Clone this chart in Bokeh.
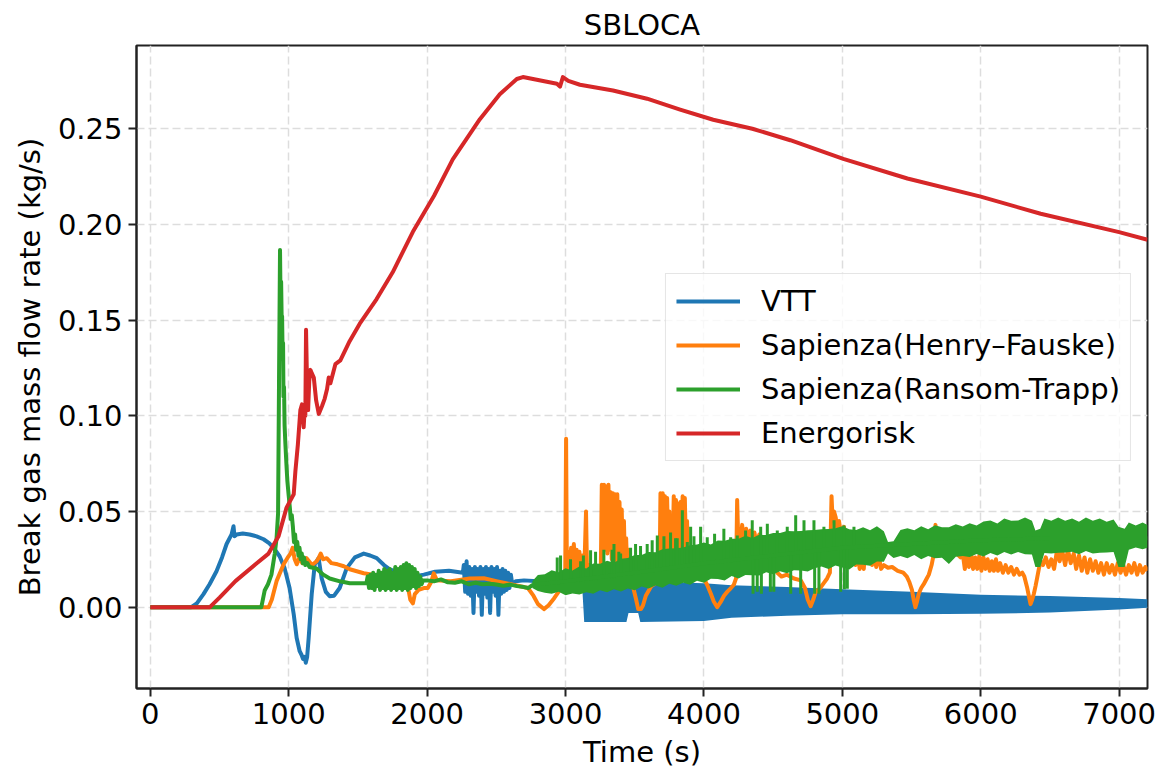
from bokeh.plotting import figure
from bokeh.models import Range1d, FixedTicker, PrintfTickFormatter
from bokeh.embed import file_html
from bokeh.resources import INLINE

# ---------------- data ----------------
x_ticks = [0, 1000, 2000, 3000, 4000, 5000, 6000, 7000]
y_ticks = [0.0, 0.05, 0.10, 0.15, 0.20, 0.25]

# VTT
vtt_t_a = [0, 296, 336, 384, 428, 478, 518, 551, 587, 601,
           608, 623, 668, 717, 768, 818, 858, 891, 934, 970,
           1006, 1036, 1057, 1079, 1093, 1103, 1115, 1123, 1133, 1144,
           1166, 1188, 1216, 1238, 1268, 1296, 1328, 1368, 1419, 1478,
           1542, 1588, 1636, 1688, 1730, 1831, 1908, 1976, 2058, 2158,
           2258]
vtt_y_a = [0, 0, 0.002, 0.0068, 0.012, 0.0188, 0.026, 0.033, 0.038, 0.0423,
           0.037, 0.038, 0.0385, 0.038, 0.037, 0.0355, 0.0335, 0.031, 0.0266, 0.0204,
           0.010, -0.0037, -0.016, -0.023, -0.025, -0.027, -0.026, -0.029, -0.026, -0.016,
           0.0068, 0.0224, 0.0256, 0.015, 0.008, 0.0057, 0.006, 0.010, 0.0204, 0.026,
           0.028, 0.027, 0.0256, 0.022, 0.0198, 0.0172, 0.016, 0.017, 0.0185, 0.019,
           0.018]
vtt_t_b = [2265, 2275, 2285, 2295, 2305, 2315, 2325, 2335, 2345, 2355,
           2365, 2375, 2385, 2395, 2405, 2415, 2425, 2435, 2445, 2455,
           2465, 2475, 2485, 2495, 2505, 2515, 2525, 2535, 2545, 2555,
           2565, 2575, 2585, 2595, 2605, 2615]
vtt_y_b = [0.022, 0.008, 0.024, 0.007, 0.021, 0.006, 0.020, -0.003, 0.021, 0.008,
           0.020, 0.006, 0.021, -0.004, 0.020, 0.007, 0.021, 0.005, 0.020, -0.003,
           0.021, 0.008, 0.020, 0.006, 0.021, -0.004, 0.019, 0.007, 0.020, 0.008,
           0.019, 0.009, 0.018, 0.010, 0.017, 0.012]
vtt_t_c = [2640, 2700, 2800, 2900, 3000, 3100, 3125]
vtt_y_c = [0.0136, 0.014, 0.0136, 0.013, 0.0125, 0.012, 0.012]
vtt_band_t = [3120, 3135, 3440, 3455, 3525, 3540, 4000, 4200, 4600, 5000, 5500, 6000, 6500, 7000, 7205]
vtt_band_lo = [0.011, -0.0078, -0.0078, -0.003, -0.003, -0.0078, -0.0072, -0.0055, -0.0045, -0.0037,
               -0.0037, -0.0035, -0.0028, -0.0012, -0.0003]
vtt_band_hi = [0.0136, 0.0136, 0.0136, 0.0136, 0.0136, 0.0136, 0.0125, 0.0115, 0.0105, 0.0094,
               0.008, 0.0065, 0.0058, 0.0048, 0.0042]

# Sapienza (Henry-Fauske)
hf_t_a = [0, 855, 878, 912, 963, 993, 1013, 1028, 1043, 1058,
          1078, 1098, 1129, 1168, 1202, 1218, 1231, 1248, 1274, 1308,
          1353, 1398, 1441, 1542, 1608, 1687, 1768, 1831, 1863, 1878,
          1897, 1911, 1938, 1976, 2005, 2028, 2048, 2070, 2172, 2308,
          2410, 2508, 2606, 2728, 2768, 2801, 2844, 2878, 2918, 2968,
          2990, 2998, 3004, 3010]
hf_y_a = [0, 0, 0.004, 0.0136, 0.0224, 0.026, 0.028, 0.031, 0.025, 0.0224,
          0.026, 0.023, 0.0256, 0.022, 0.024, 0.026, 0.028, 0.025, 0.0256, 0.023,
          0.0224, 0.0214, 0.0198, 0.0177, 0.017, 0.016, 0.0151, 0.0136, 0.010, 0.004,
          0.002, 0.0068, 0.009, 0.010, 0.010, 0.013, 0.0177, 0.014, 0.0136, 0.015,
          0.0151, 0.0135, 0.012, 0.010, 0.006, 0.0016, -0.001, 0.001, 0.0047, 0.010,
          0.012, 0.020, 0.088, 0.016]
hf_t_b = [3020, 3030, 3040, 3050, 3060, 3070, 3080, 3090, 3100, 3110,
          3120, 3130, 3140, 3148, 3156, 3170, 3185, 3200, 3220, 3240]
hf_y_b = [0.029, 0.018, 0.031, 0.020, 0.033, 0.019, 0.030, 0.020, 0.029, 0.018,
          0.027, 0.016, 0.030, 0.050, 0.016, 0.022, 0.015, 0.018, 0.014, 0.016]
hf_t_c = [3255, 3262, 3270, 3278, 3286, 3294, 3302, 3310, 3318, 3326,
          3334, 3342, 3350, 3358, 3366, 3374, 3382, 3390, 3398, 3406,
          3414, 3422, 3430, 3438, 3446, 3454, 3462, 3470]
hf_y_c = [0.020, 0.064, 0.025, 0.064, 0.030, 0.063, 0.028, 0.064, 0.030, 0.060,
          0.025, 0.0595, 0.030, 0.059, 0.022, 0.059, 0.028, 0.055, 0.020, 0.051,
          0.025, 0.045, 0.020, 0.036, 0.018, 0.030, 0.016, 0.015]
hf_t_d = [3490, 3510, 3525, 3545, 3560, 3580, 3620, 3660, 3680]
hf_y_d = [0.010, 0.004, -0.001, -0.001, 0.001, 0.006, 0.011, 0.013, 0.020]
hf_t_e = [3686, 3694, 3702, 3710, 3718, 3726, 3734, 3742, 3750, 3758,
          3766, 3774, 3782, 3790, 3798, 3806, 3814, 3822, 3830, 3838,
          3846, 3854, 3862, 3870, 3878, 3886, 3894]
hf_y_e = [0.0595, 0.025, 0.0595, 0.030, 0.058, 0.025, 0.057, 0.030, 0.050, 0.025,
          0.047, 0.030, 0.058, 0.025, 0.056, 0.030, 0.054, 0.025, 0.055, 0.030,
          0.058, 0.025, 0.057, 0.030, 0.045, 0.022, 0.028]
hf_t_f = [3910, 3950, 3980, 4000, 4023, 4050, 4071, 4096, 4120, 4145,
          4168, 4195, 4216, 4232, 4240, 4248, 4256, 4264, 4276, 4290,
          4305, 4320, 4335, 4350, 4365, 4380, 4400, 4420, 4440, 4460,
          4480, 4505, 4530, 4560, 4600, 4650, 4700, 4730, 4750, 4771,
          4790, 4807, 4840, 4867, 4890, 4910, 4922, 4930, 4940, 4952,
          4965, 4976, 4990, 5012, 5030, 5045, 5060, 5080, 5095, 5110,
          5125, 5140, 5155, 5170, 5185, 5200, 5215, 5230, 5245, 5260,
          5280, 5300, 5330, 5360, 5400, 5440, 5466, 5485, 5503, 5515,
          5528, 5540, 5552, 5570, 5588, 5610, 5625, 5645, 5656, 5665,
          5673, 5682, 5690, 5710, 5750, 5800, 5854]
hf_y_f = [0.020, 0.022, 0.016, 0.015, 0.0117, 0.007, 0.003, 0.000, 0.0026, 0.006,
          0.008, 0.010, 0.0117, 0.015, 0.056, 0.035, 0.040, 0.032, 0.043, 0.034,
          0.041, 0.033, 0.040, 0.034, 0.039, 0.033, 0.038, 0.032, 0.036, 0.030,
          0.025, 0.022, 0.018, 0.016, 0.017, 0.015, 0.014, 0.010, 0.004, 0.0005,
          0.004, 0.0078, 0.010, 0.0127, 0.015, 0.018, 0.058, 0.045, 0.050, 0.047,
          0.040, 0.045, 0.038, 0.042, 0.030, 0.038, 0.026, 0.030, 0.022, 0.030,
          0.020, 0.028, 0.020, 0.036, 0.024, 0.033, 0.022, 0.030, 0.021, 0.028,
          0.020, 0.022, 0.0206, 0.021, 0.019, 0.018, 0.016, 0.013, 0.009, 0.004,
          0.000, 0.003, 0.007, 0.010, 0.012, 0.015, 0.017, 0.022, 0.026, 0.035,
          0.043, 0.036, 0.036, 0.030, 0.030, 0.030, 0.026]
hf_t_g = [5870, 5885, 5900, 5915, 5930, 5945, 5960, 5975, 5990, 6005,
          6020, 6035, 6050, 6065, 6080, 6095, 6110, 6125, 6140, 6160,
          6180, 6200, 6220, 6240, 6260, 6280, 6300, 6315, 6336, 6350,
          6360, 6372, 6384, 6396, 6408, 6420, 6433, 6450, 6470, 6490,
          6510, 6530, 6554, 6570, 6590, 6610, 6630, 6650, 6672, 6690,
          6710, 6730, 6750, 6770, 6790, 6810, 6830, 6850, 6870, 6890,
          6910, 6930, 6950, 6970, 6990, 7010, 7030, 7050, 7070, 7090,
          7110, 7130, 7150, 7170, 7190, 7205]
hf_y_g = [0.028, 0.020, 0.027, 0.021, 0.028, 0.020, 0.026, 0.020, 0.027, 0.019,
          0.026, 0.020, 0.025, 0.019, 0.024, 0.019, 0.025, 0.019, 0.023, 0.018,
          0.022, 0.018, 0.021, 0.017, 0.020, 0.017, 0.018, 0.016, 0.010, 0.005,
          0.0016, 0.004, 0.007, 0.011, 0.0155, 0.020, 0.024, 0.022, 0.026, 0.021,
          0.025, 0.020, 0.031, 0.024, 0.029, 0.022, 0.030, 0.023, 0.028, 0.020,
          0.027, 0.019, 0.026, 0.018, 0.025, 0.019, 0.024, 0.018, 0.023, 0.017,
          0.023, 0.018, 0.022, 0.017, 0.023, 0.018, 0.022, 0.017, 0.022, 0.018,
          0.023, 0.017, 0.022, 0.018, 0.021, 0.019]

# Sapienza (Ransom-Trapp)
rt_t_a = [0, 802, 826, 850, 875, 899, 912, 923, 930, 937,
          941, 945, 949, 952, 956, 959, 962, 966, 970, 976,
          983, 990, 1000, 1008, 1015, 1022, 1030, 1038, 1046, 1054,
          1062, 1070, 1078, 1086, 1094, 1102, 1110, 1120, 1135, 1150,
          1200, 1250, 1296, 1370, 1441, 1500, 1561]
rt_y_a = [0, 0, 0.0087, 0.012, 0.017, 0.028, 0.036, 0.049, 0.12, 0.1866,
          0.16, 0.17, 0.15, 0.152, 0.13, 0.138, 0.11, 0.115, 0.095, 0.085,
          0.075, 0.066, 0.058, 0.052, 0.046, 0.048, 0.042, 0.034, 0.038, 0.030,
          0.034, 0.027, 0.031, 0.025, 0.028, 0.023, 0.026, 0.022, 0.023, 0.021,
          0.0202, 0.017, 0.015, 0.0135, 0.0125, 0.0125, 0.0125]
rt_t_b = [1570, 1580, 1590, 1600, 1610, 1620, 1630, 1640, 1650, 1660,
          1670, 1680, 1690, 1700, 1710, 1720, 1730, 1740, 1750, 1760,
          1770, 1780, 1790, 1800, 1810, 1820, 1830, 1840, 1850, 1860,
          1870, 1880, 1890, 1900, 1910, 1920, 1930, 1940, 1950, 1960,
          1970]
rt_y_b = [0.016, 0.010, 0.017, 0.010, 0.018, 0.009, 0.017, 0.011, 0.019, 0.009,
          0.018, 0.010, 0.020, 0.009, 0.019, 0.010, 0.020, 0.009, 0.018, 0.010,
          0.021, 0.009, 0.020, 0.010, 0.021, 0.009, 0.022, 0.010, 0.023, 0.009,
          0.022, 0.010, 0.021, 0.011, 0.020, 0.010, 0.018, 0.011, 0.016, 0.012,
          0.014]
rt_t_c = [2000, 2050, 2100, 2150, 2200, 2250, 2300, 2350, 2400, 2450,
          2500, 2550, 2600, 2650, 2700, 2730, 2760]
rt_y_c = [0.014, 0.0135, 0.0145, 0.013, 0.0128, 0.0135, 0.012, 0.0128, 0.012, 0.0122,
          0.0118, 0.0112, 0.0118, 0.011, 0.0105, 0.010, 0.0115]
rt_t_d = [2800, 3000, 3500, 4000, 4500, 5000, 5500, 6000, 6500, 7000, 7205]
rt_y_d = [0.012, 0.0135, 0.018, 0.023, 0.027, 0.031, 0.033, 0.035, 0.036, 0.036, 0.036]
rt_band_t = [2760, 2800, 2850, 2900, 2950, 3000, 3050, 3100, 3150, 3200,
             3250, 3300, 3350, 3400, 3450, 3500, 3550, 3600, 3650, 3700,
             3750, 3800, 3850, 3900, 3950, 4000, 4050, 4100, 4150, 4200,
             4250, 4300, 4350, 4400, 4450, 4500, 4550, 4600, 4650, 4700,
             4750, 4800, 4850, 4900, 4950, 5000, 5050, 5100, 5150, 5200,
             5250, 5300, 5330, 5370, 5420, 5470, 5520, 5570, 5620, 5670,
             5720, 5770, 5820, 5870, 5920, 5970, 6020, 6070, 6120, 6170,
             6220, 6270, 6320, 6370, 6395, 6430, 6460, 6510, 6560, 6610,
             6660, 6710, 6760, 6810, 6860, 6910, 6960, 6995, 7040, 7070,
             7120, 7170, 7205]
rt_band_lo = [0.0100, 0.0085, 0.0075, 0.0070, 0.0080, 0.0062, 0.0072, 0.0066, 0.0078, 0.0070,
              0.0088, 0.0078, 0.0093, 0.0082, 0.0098, 0.0088, 0.0108, 0.0097, 0.0113, 0.0102,
              0.0123, 0.0112, 0.0128, 0.0117, 0.0138, 0.0127, 0.0148, 0.0147, 0.0140, 0.0163,
              0.0150, 0.0168, 0.0167, 0.0165, 0.0183, 0.0172, 0.0188, 0.0177, 0.0193, 0.0192,
              0.0187, 0.0203, 0.0213, 0.0200, 0.0218, 0.0207, 0.0197, 0.0223, 0.0222, 0.0217,
              0.0238, 0.0237, 0.0280, 0.0257, 0.0268, 0.0255, 0.0273, 0.0250, 0.0268, 0.0255,
              0.0258, 0.0225, 0.0263, 0.0267, 0.0262, 0.0278, 0.0265, 0.0283, 0.0270, 0.0288,
              0.0275, 0.0288, 0.0276, 0.0275, 0.0210, 0.0210, 0.0283, 0.0280, 0.0284, 0.0286,
              0.0290, 0.0276, 0.0294, 0.0280, 0.0284, 0.0286, 0.0288, 0.0210, 0.0210, 0.0300,
              0.0312, 0.0302, 0.0310]
rt_band_hi = [0.0135, 0.0168, 0.0172, 0.0193, 0.0182, 0.0203, 0.0192, 0.0213, 0.0202, 0.0228,
              0.0227, 0.0243, 0.0232, 0.0253, 0.0257, 0.0273, 0.0272, 0.0288, 0.0287, 0.0303,
              0.0307, 0.0308, 0.0312, 0.0323, 0.0327, 0.0338, 0.0327, 0.0348, 0.0347, 0.0358,
              0.0357, 0.0373, 0.0362, 0.0378, 0.0377, 0.0388, 0.0387, 0.0398, 0.0397, 0.0398,
              0.0402, 0.0403, 0.0407, 0.0408, 0.0412, 0.0423, 0.0407, 0.0403, 0.0418, 0.0402,
              0.0423, 0.0397, 0.0340, 0.0345, 0.0403, 0.0413, 0.0402, 0.0423, 0.0407, 0.0428,
              0.0417, 0.0418, 0.0433, 0.0422, 0.0438, 0.0427, 0.0448, 0.0453, 0.0437, 0.0463,
              0.0452, 0.0453, 0.0468, 0.0452, 0.0400, 0.0410, 0.0463, 0.0452, 0.0468, 0.0452,
              0.0463, 0.0447, 0.0468, 0.0452, 0.0463, 0.0447, 0.0458, 0.0420, 0.0410, 0.0443,
              0.0427, 0.0443, 0.0430]
rt_spike_t = [2940, 2964, 3036, 3109, 3129, 3181, 3217, 3277, 3337, 3350,
              3385, 3398, 3470, 3506, 3542, 3590, 3626, 3663, 3711, 3759,
              3795, 3807, 3844, 3880, 3904, 3928, 3976, 4024, 4077, 4144,
              4193, 4241, 4301, 4349, 4410, 4458, 4530, 4602, 4663, 4723,
              4795, 4867, 4940, 5012, 5084,
              4355, 4385, 4415, 4480, 4505, 4627, 4699, 4800, 4831, 4988,
              5015, 5036]
rt_spike_y = [0.026, 0.027, 0.025, 0.024, 0.027, 0.0297, 0.029, 0.030, 0.030, 0.033,
              0.029, 0.028, 0.031, 0.033, 0.032, 0.033, 0.035, 0.0375, 0.037, 0.039,
              0.036, 0.036, 0.0506, 0.034, 0.042, 0.037, 0.042, 0.0366, 0.0384, 0.041,
              0.0366, 0.0375, 0.040, 0.0454, 0.042, 0.0436, 0.040, 0.042, 0.048, 0.0454,
              0.0454, 0.042, 0.0454, 0.0427, 0.042,
              0.007, 0.008, 0.007, 0.008, 0.008, 0.007, 0.007, 0.007, 0.007, 0.008,
              0.0094, 0.0096]
rt_spike_base = [0.012, 0.012, 0.013, 0.013, 0.013, 0.014, 0.014, 0.015, 0.015, 0.015,
                 0.016, 0.016, 0.017, 0.017, 0.018, 0.018, 0.019, 0.019, 0.020, 0.020,
                 0.021, 0.021, 0.021, 0.022, 0.022, 0.022, 0.023, 0.023, 0.024, 0.025,
                 0.025, 0.026, 0.026, 0.027, 0.027, 0.028, 0.028, 0.029, 0.029, 0.030,
                 0.030, 0.031, 0.031, 0.031, 0.031,
                 0.027, 0.027, 0.027, 0.028, 0.028, 0.029, 0.030, 0.030, 0.030, 0.031,
                 0.031, 0.031]

# Energorisk
en_t = [0, 430, 500, 615, 760, 854, 926, 984, 1036, 1048,
        1066, 1084, 1096, 1108, 1115, 1120, 1125, 1132, 1140, 1148,
        1157, 1168, 1181, 1198, 1217, 1240, 1260, 1277, 1289, 1301,
        1337, 1373, 1440, 1512, 1635, 1751, 1896, 2050, 2185, 2381,
        2525, 2648, 2692, 2938, 2960, 2981, 3020, 3104, 3343, 3589,
        3828, 4067, 4350, 4624, 5007, 5470, 6000, 6433, 7000, 7205]
en_y = [0, 0, 0.005, 0.0136, 0.0224, 0.028, 0.037, 0.052, 0.059, 0.071,
        0.085, 0.103, 0.106, 0.094, 0.104, 0.100, 0.145, 0.118, 0.103, 0.118,
        0.124, 0.122, 0.120, 0.108, 0.101, 0.105, 0.109, 0.114, 0.120, 0.117,
        0.127, 0.129, 0.139, 0.148, 0.161, 0.175, 0.196, 0.215, 0.234, 0.255,
        0.268, 0.276, 0.277, 0.2735, 0.272, 0.277, 0.275, 0.273, 0.270, 0.2657,
        0.260, 0.2547, 0.250, 0.244, 0.2343, 0.224, 0.2145, 0.2056, 0.196, 0.192]

vtt_t = vtt_t_a + vtt_t_b + vtt_t_c
vtt_y = vtt_y_a + vtt_y_b + vtt_y_c
hf_t = hf_t_a + hf_t_b + hf_t_c + hf_t_d + hf_t_e + hf_t_f + hf_t_g
hf_y = hf_y_a + hf_y_b + hf_y_c + hf_y_d + hf_y_e + hf_y_f + hf_y_g
rt_t = rt_t_a + rt_t_b + rt_t_c + rt_t_d
rt_y = rt_y_a + rt_y_b + rt_y_c + rt_y_d

C_VTT, C_HF, C_RT, C_EN = "#1f77b4", "#ff7f0e", "#2ca02c", "#d62728"
LW = 4
FONT = "DejaVu Sans"
FS = "29px"

p = figure(width=1162, height=780, output_backend="svg", toolbar_location=None,
           title="SBLOCA",
           x_range=Range1d(-100, 7205), y_range=Range1d(-0.0425, 0.2935),
           min_border_left=136, min_border_right=15,
           min_border_top=45, min_border_bottom=92)
p.background_fill_color = "white"
p.border_fill_color = "white"
p.outline_line_color = "#222222"
p.outline_line_width = 2
p.outline_line_alpha = 1

p.title.text_font = FONT
p.title.text_font_size = FS
p.title.text_font_style = "normal"
p.title.text_color = "black"
p.title.align = "center"
p.title.standoff = 7

p.varea(x=vtt_band_t, y1=vtt_band_lo, y2=vtt_band_hi, fill_color=C_VTT)
p.line(vtt_t, vtt_y, line_color=C_VTT, line_width=LW, line_join="round", legend_label="VTT")
p.line(hf_t, hf_y, line_color=C_HF, line_width=LW, line_join="round",
       legend_label="Sapienza(Henry\u2013Fauske)")
p.varea(x=rt_band_t, y1=rt_band_lo, y2=rt_band_hi, fill_color=C_RT)
p.segment(x0=rt_spike_t, y0=rt_spike_base, x1=rt_spike_t, y1=rt_spike_y,
          line_color=C_RT, line_width=3)
p.line(rt_t, rt_y, line_color=C_RT, line_width=LW, line_join="round",
       legend_label="Sapienza(Ransom-Trapp)")
p.line(en_t, en_y, line_color=C_EN, line_width=LW, line_join="round", legend_label="Energorisk")

p.xaxis.ticker = FixedTicker(ticks=x_ticks)
p.yaxis.ticker = FixedTicker(ticks=y_ticks)
p.yaxis.formatter = PrintfTickFormatter(format="%.2f")
p.xaxis.axis_label = "Time (s)"
p.yaxis.axis_label = "Break gas mass flow rate (kg/s)"
for ax in (p.xaxis, p.yaxis):
    ax.axis_label_text_font = FONT
    ax.axis_label_text_font_size = FS
    ax.axis_label_text_font_style = "normal"
    ax.axis_label_text_color = "black"
    ax.major_label_text_font = FONT
    ax.major_label_text_font_size = FS
    ax.major_label_text_color = "black"
    ax.major_tick_out = 8
    ax.major_tick_in = 0
    ax.minor_tick_out = 0
    ax.minor_tick_in = 0
    ax.major_tick_line_width = 2
    ax.major_tick_line_color = "#222222"
    ax.axis_line_width = 2
    ax.axis_line_color = "#222222"
    ax.major_label_standoff = 6
    ax.axis_label_standoff = 8

p.grid.grid_line_color = "#dddddd"
p.grid.grid_line_width = 1.5
p.grid.grid_line_dash = "8 4"
p.xgrid.ticker = FixedTicker(ticks=x_ticks)
p.ygrid.ticker = FixedTicker(ticks=y_ticks)

lg = p.legend[0]
lg.location = "right"
lg.margin = 16
lg.label_text_font = FONT
lg.label_text_font_size = FS
lg.label_text_color = "black"
lg.glyph_width = 64
lg.glyph_height = 30
lg.label_height = 30
lg.label_standoff = 21
lg.spacing = 10
lg.padding = 10
lg.border_line_color = "#cccccc"
lg.border_line_width = 1.5
lg.background_fill_alpha = 0.8

open("out.html", "w").write(file_html(p, INLINE))
